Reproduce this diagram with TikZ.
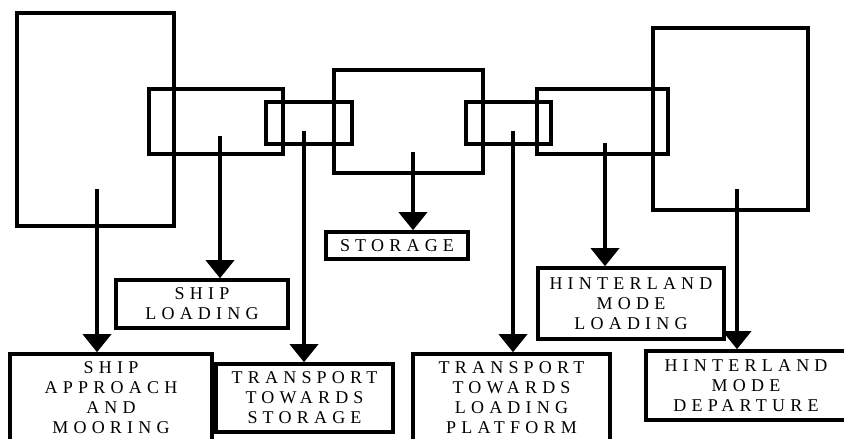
\documentclass[tikz,border=0pt]{standalone}
\usepackage{fontspec}
\setmainfont{Liberation Serif}
\newfontfamily\spacedfont[LetterSpace=29]{Liberation Serif}
\usetikzlibrary{arrows.meta}
\tikzset{
  every picture/.style={line width=3.6pt},
  frame/.style={draw, inner sep=0pt},
  stage/.style={draw, align=center, inner sep=0pt, font=\spacedfont\fontsize{18}{20}\selectfont},
  flow/.style={-{Triangle[width=28pt, length=18pt]}, line width=3.8pt},
}

\begin{document}
\begin{tikzpicture}[x=1pt, y=-1pt]
  \useasboundingbox (0,0) rectangle (844,439);
  \clip (0,0) rectangle (844,439);
  % terminal frames
  \node[frame, minimum width=157pt, minimum height=213pt] (berth) at (95.5,119.5) {};
  \node[frame, minimum width=134pt, minimum height=65pt] (quay) at (216,121.5) {};
  \node[frame, minimum width=86pt, minimum height=42pt] (tostore) at (309,123) {};
  \node[frame, minimum width=149pt, minimum height=103pt] (yard) at (408.5,121.5) {};
  \node[frame, minimum width=85pt, minimum height=42pt] (toload) at (508.5,123) {};
  \node[frame, minimum width=131pt, minimum height=65pt] (platform) at (602.5,121.5) {};
  \node[frame, minimum width=155pt, minimum height=182pt] (gate) at (730.5,119) {};
  % stage labels
  \node[stage, minimum width=202pt, minimum height=88pt] (approach) at (111,398) {SHIP\\APPROACH\\AND\\MOORING};
  \node[stage, minimum width=172pt, minimum height=48pt] (shipload) at (202,304) {SHIP\\LOADING};
  \node[stage, minimum width=177pt, minimum height=68pt] (tostorage) at (304.5,398) {TRANSPORT\\TOWARDS\\STORAGE};
  \node[stage, minimum width=142pt, minimum height=27pt] (storage) at (397,245.5) {STORAGE};
  \node[stage, minimum width=197pt, minimum height=88pt] (toplatform) at (511.5,398) {TRANSPORT\\TOWARDS\\LOADING\\PLATFORM};
  \node[stage, minimum width=186pt, minimum height=71pt] (hinterload) at (631,303.5) {HINTERLAND\\MODE\\LOADING};
  \node[stage, minimum width=200pt, minimum height=69pt] (hinterdep) at (746,385.5) {HINTERLAND\\MODE\\DEPARTURE};
  % arrows
  \coordinate (s1) at (97,189);
  \coordinate (s2) at (220,136);
  \coordinate (s3) at (304,131);
  \coordinate (s4) at (413,152);
  \coordinate (s5) at (513,131);
  \coordinate (s6) at (605,143);
  \coordinate (s7) at (737,189);
  \draw[flow] (s1) -- (s1 |- approach.north);
  \draw[flow] (s2) -- (s2 |- shipload.north);
  \draw[flow] (s3) -- (s3 |- tostorage.north);
  \draw[flow] (s4) -- (s4 |- storage.north);
  \draw[flow] (s5) -- (s5 |- toplatform.north);
  \draw[flow] (s6) -- (s6 |- hinterload.north);
  \draw[flow] (s7) -- (s7 |- hinterdep.north);
\end{tikzpicture}
\end{document}
